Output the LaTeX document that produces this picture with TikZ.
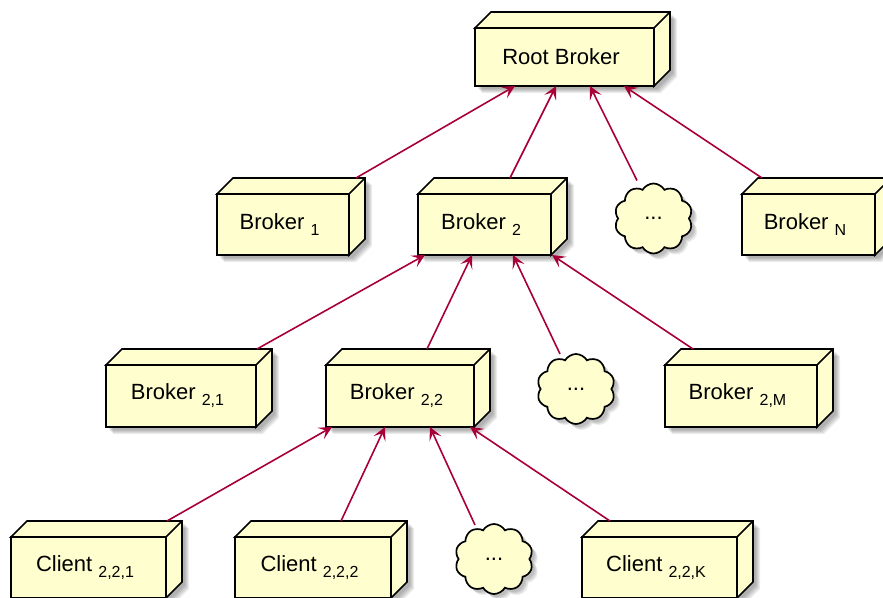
\documentclass[tikz,border=0pt]{standalone}
\usepackage{fontspec}
\setmainfont{Liberation Sans}
\usetikzlibrary{arrows.meta,shapes.symbols,backgrounds}
\definecolor{boxfill}{HTML}{FEFECE}
\definecolor{arrcol}{HTML}{A80036}
\newcommand\subtxt[1]{\raisebox{-6pt}{\fontsize{16}{16}\selectfont #1}}
\tikzset{
  nbox/.style={rectangle, draw=black, line width=1.7pt, fill=boxfill,
    minimum height=61pt, inner sep=0pt, outer sep=0pt,
    font=\fontsize{22}{26}\selectfont, execute at end node={\hspace*{7pt}}},
  face/.style={draw=black, line width=1.7pt, fill=boxfill, line join=miter},
  cloudnode/.style={cloud, cloud puffs=10, cloud puff arc=120, cloud ignores aspect,
    draw=black, line width=1.7pt, fill=boxfill, minimum width=78pt, minimum height=70pt,
    inner sep=0pt, outer sep=0pt, font=\fontsize{22}{26}\selectfont},
  arr/.style={draw=arrcol, line width=1.6pt,
    -{Stealth[length=13pt,width=13pt,inset=6pt]}},
  shade1/.style={fill=black, opacity=0.07},
}
\begin{document}
\begin{tikzpicture}[x=1pt,y=-1pt]
\useasboundingbox (0,0) rectangle (883,597);
\clip (0,0) rectangle (883,597);
% boxes
\node[nbox, minimum width=179pt, minimum height=58pt] (root) at (564.5,57) {Root Broker};
\node[nbox, minimum width=132pt] (b1) at (283,224.5) {Broker \subtxt{1}};
\node[nbox, minimum width=133pt] (b2) at (484.5,224.5) {Broker \subtxt{2}};
\node[cloudnode] (c1) at (653.5,218.5) {...};
\node[nbox, minimum width=133pt] (bN) at (808.5,224.5) {Broker \subtxt{N}};
\node[nbox, minimum width=150pt, minimum height=62pt] (b21) at (181,396) {Broker \subtxt{2,1}};
\node[nbox, minimum width=148pt, minimum height=62pt] (b22) at (400,396) {Broker \subtxt{2,2}};
\node[cloudnode] (c2) at (576,389) {...};
\node[nbox, minimum width=152pt, minimum height=62pt] (b2M) at (741,396) {Broker \subtxt{2,M}};
\node[nbox, minimum width=155pt] (cl1) at (88.5,567.5) {Client \subtxt{2,2,1}};
\node[nbox, minimum width=156pt] (cl2) at (313,567.5) {Client \subtxt{2,2,2}};
\node[cloudnode] (c3) at (494,559) {...};
\node[nbox, minimum width=155pt] (clK) at (659.5,567.5) {Client \subtxt{2,2,K}};
% 3D faces and shadows
\foreach \n in {root,b1,b2,bN,b21,b22,b2M,cl1,cl2,clK} {
  \begin{pgfonlayer}{background}
    \foreach \s in {3,4,5,6,7} {
      \fill[shade1] ([xshift=\s pt,yshift=-\s pt]\n.north west) -- ([xshift=16pt+\s pt,yshift=16pt-\s pt]\n.north west)
        -- ([xshift=16pt+\s pt,yshift=16pt-\s pt]\n.north east) -- ([xshift=16pt+\s pt,yshift=16pt-\s pt]\n.south east)
        -- ([xshift=\s pt,yshift=-\s pt]\n.south east) -- ([xshift=\s pt,yshift=-\s pt]\n.south west) -- cycle;
    }
  \end{pgfonlayer}
  \draw[face] (\n.north west) -- ([xshift=16pt,yshift=16pt]\n.north west)
    -- ([xshift=16pt,yshift=16pt]\n.north east) -- ([xshift=16pt,yshift=16pt]\n.south east)
    -- (\n.south east) -- (\n.north east) -- cycle;
  \draw[face] (\n.north east) -- ([xshift=16pt,yshift=16pt]\n.north east);
}
\begin{pgfonlayer}{background}
  \foreach \n in {c1,c2,c3} {
    \foreach \s in {3,4,5,6} {
      \node[cloudnode, draw=none, fill=black, opacity=0.07] at ([xshift=\s pt,yshift=-\s pt]\n.center) {};
    }
  }
\end{pgfonlayer}
% connectors
\draw[arr] ([xshift=73pt,yshift=16pt]b1.north) -- ([xshift=-49.5pt]root.south);
\draw[arr] ([xshift=25.5pt,yshift=16pt]b2.north) -- ([xshift=-8.5pt]root.south);
\draw[arr] ([xshift=-16.5pt,yshift=3pt]c1.north) -- ([xshift=25.5pt]root.south);
\draw[arr] ([xshift=-46.5pt,yshift=16pt]bN.north) -- ([xshift=59.5pt]root.south);
\draw[arr] ([xshift=76pt,yshift=16pt]b21.north) -- ([xshift=-59.5pt]b2.south);
\draw[arr] ([xshift=27pt,yshift=16pt]b22.north) -- ([xshift=-12.5pt]b2.south);
\draw[arr] ([xshift=-16pt,yshift=0pt]c2.north) -- ([xshift=28.5pt]b2.south);
\draw[arr] ([xshift=-48pt,yshift=16pt]b2M.north) -- ([xshift=67.5pt]b2.south);
\draw[arr] ([xshift=78.5pt,yshift=16pt]cl1.north) -- ([xshift=-68pt]b22.south);
\draw[arr] ([xshift=28pt,yshift=16pt]cl2.north) -- ([xshift=-15pt]b22.south);
\draw[arr] ([xshift=-19pt,yshift=-1pt]c3.north) -- ([xshift=30pt]b22.south);
\draw[arr] ([xshift=-49.5pt,yshift=16pt]clK.north) -- ([xshift=70pt]b22.south);
\end{tikzpicture}
\end{document}
